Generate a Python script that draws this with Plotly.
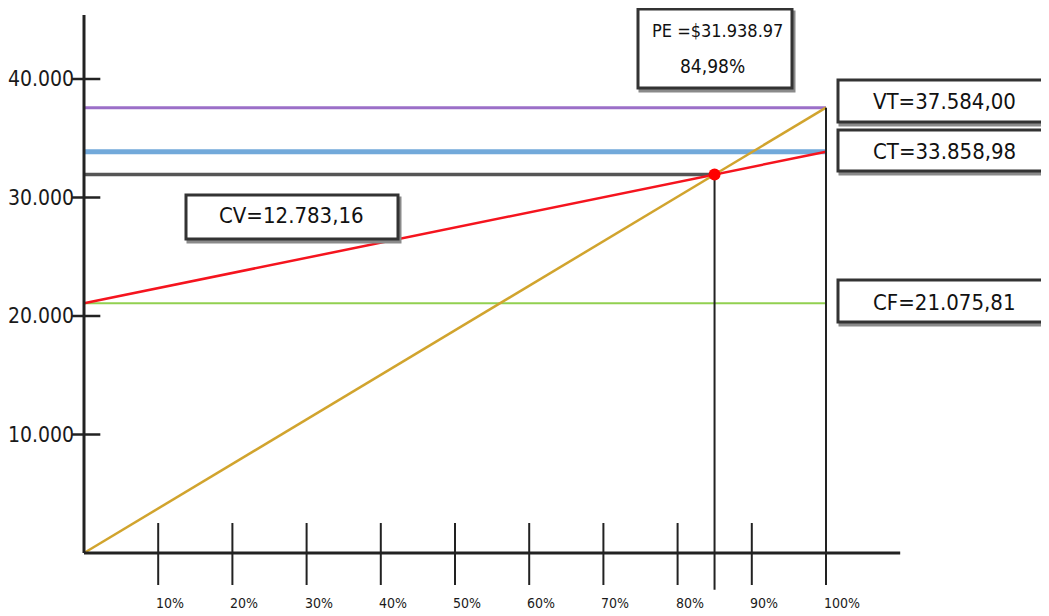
import plotly.graph_objects as go

# --- dados do ponto de equilíbrio ---
pct = [0, 100]                       # % das vendas
vt_vals = [0, 37584.00]              # vendas totais
ct_vals = [21075.81, 33858.98]       # custo total
cf_val = 21075.81                    # custo fixo
cv_val = 12783.16                    # custo variável
vt_total = 37584.00
ct_total = 33858.98
pe_val = 31938.97                    # ponto de equilíbrio ($)
pe_pct = 84.98                       # ponto de equilíbrio (%)

y_ticks = [10000, 20000, 30000, 40000]
y_labels = ["10.000", "20.000", "30.000", "40.000"]
x_ticks = [10, 20, 30, 40, 50, 60, 70, 80, 90, 100]
x_labels = ["10%", "20%", "30%", "40%", "50%", "60%", "70%", "80%", "90%", "100%"]

# a página tem 8px de margem no body
OFF = 8
W, H = 1049 - OFF, 616 - OFF
FONT = "DejaVu Sans Condensed, Liberation Sans Narrow, sans-serif"


def px(x):
    return (x - OFF) / W


def py(y):
    return 1 - (y - OFF) / H


def br(v):
    return f"{v:,.2f}".replace(",", "X").replace(".", ",").replace("X", ".")


fig = go.Figure()

# linhas horizontais
fig.add_trace(go.Scatter(x=pct, y=[vt_total, vt_total], mode="lines",
                         line=dict(color="#9B6FC8", width=3)))
fig.add_trace(go.Scatter(x=pct, y=[ct_total, ct_total], mode="lines",
                         line=dict(color="#72A9DA", width=5)))
fig.add_trace(go.Scatter(x=[0, pe_pct], y=[pe_val, pe_val], mode="lines",
                         line=dict(color="#555555", width=3.5)))
fig.add_trace(go.Scatter(x=pct, y=[cf_val, cf_val], mode="lines",
                         line=dict(color="#92D050", width=2)))
# custo total e vendas
fig.add_trace(go.Scatter(x=pct, y=ct_vals, mode="lines",
                         line=dict(color="#F5141E", width=2.5)))
fig.add_trace(go.Scatter(x=pct, y=vt_vals, mode="lines",
                         line=dict(color="#D1A42E", width=2.5)))
# verticais
fig.add_trace(go.Scatter(x=[pe_pct, pe_pct], y=[pe_val, -3100], mode="lines",
                         line=dict(color="#222222", width=2)))
fig.add_trace(go.Scatter(x=[100, 100], y=[vt_total, -2700], mode="lines",
                         line=dict(color="#222222", width=2)))
# ponto
fig.add_trace(go.Scatter(x=[pe_pct], y=[pe_val], mode="markers",
                         marker=dict(color="#FF0000", size=12)))

shapes = []
# eixos
shapes.append(dict(type="line", x0=0, x1=110, y0=0, y1=0, xref="x", yref="y",
                   line=dict(color="#222222", width=3)))
shapes.append(dict(type="line", x0=0, x1=0, y0=0, y1=45400, xref="x", yref="y",
                   line=dict(color="#222222", width=3)))
for t in y_ticks:
    shapes.append(dict(type="line", x0=-1.6, x1=2.2, y0=t, y1=t, xref="x", yref="y",
                       line=dict(color="#222222", width=2.5)))
for t in x_ticks:
    shapes.append(dict(type="line", x0=t, x1=t, y0=-2700, y1=2530, xref="x", yref="y",
                       line=dict(color="#222222", width=2)))

annotations = []
for t, lab in zip(y_ticks, y_labels):
    annotations.append(dict(x=0, y=t, xref="x", yref="y", text=lab, showarrow=False,
                            xanchor="right", yanchor="middle", xshift=-8,
                            font=dict(family=FONT, size=21, color="#1a1a1a")))
for t, lab in zip(x_ticks, x_labels):
    annotations.append(dict(x=t, y=0, xref="x", yref="y", text=lab, showarrow=False,
                            xanchor="left", yanchor="middle", xshift=-4, yshift=-50,
                            font=dict(family=FONT, size=14, color="#1a1a1a")))

# caixas de texto
boxes = [
    (638, 9, 792, 88),
    (838, 80, 1060, 122),
    (838, 130, 1060, 171),
    (838, 280, 1060, 322),
    (186, 195, 398, 239),
]
for x0, y0, x1, y1 in boxes:
    shapes.append(dict(type="rect", xref="paper", yref="paper",
                       x0=px(x0 + 2), x1=px(x1 + 2), y0=py(y0 + 3), y1=py(y1 + 3),
                       line=dict(color="#8a8a8a", width=3), fillcolor="#8a8a8a"))
    shapes.append(dict(type="rect", xref="paper", yref="paper",
                       x0=px(x0), x1=px(x1), y0=py(y0), y1=py(y1),
                       line=dict(color="#333333", width=3), fillcolor="white"))

labels = [
    (717, 30, "PE =$31.938.97", 18),
    (712, 66, f"{pe_pct:.2f}".replace(".", ",") + "%", 19),
    (944, 102, "VT=" + br(vt_total), 22),
    (944, 151, "CT=" + br(ct_total), 22),
    (944, 302, "CF=" + br(cf_val), 22),
    (291, 216, "CV=" + br(cv_val), 22),
]
for x, y, txt, sz in labels:
    annotations.append(dict(x=px(x), y=py(y), xref="paper", yref="paper", text=txt,
                            showarrow=False, xanchor="center", yanchor="middle",
                            font=dict(family=FONT, size=sz, color="#111111")))

fig.update_layout(
    width=W, height=H,
    margin=dict(l=0, r=0, t=0, b=0),
    paper_bgcolor="white", plot_bgcolor="white",
    showlegend=False,
    xaxis=dict(range=[-(84 - OFF) / 7.42, (1049 - 84) / 7.42], visible=False, fixedrange=True),
    yaxis=dict(range=[-(616 - 553) / 0.01185, (553 - OFF) / 0.01185], visible=False, fixedrange=True),
    shapes=shapes,
    annotations=annotations,
)

fig.write_html("out.html")
